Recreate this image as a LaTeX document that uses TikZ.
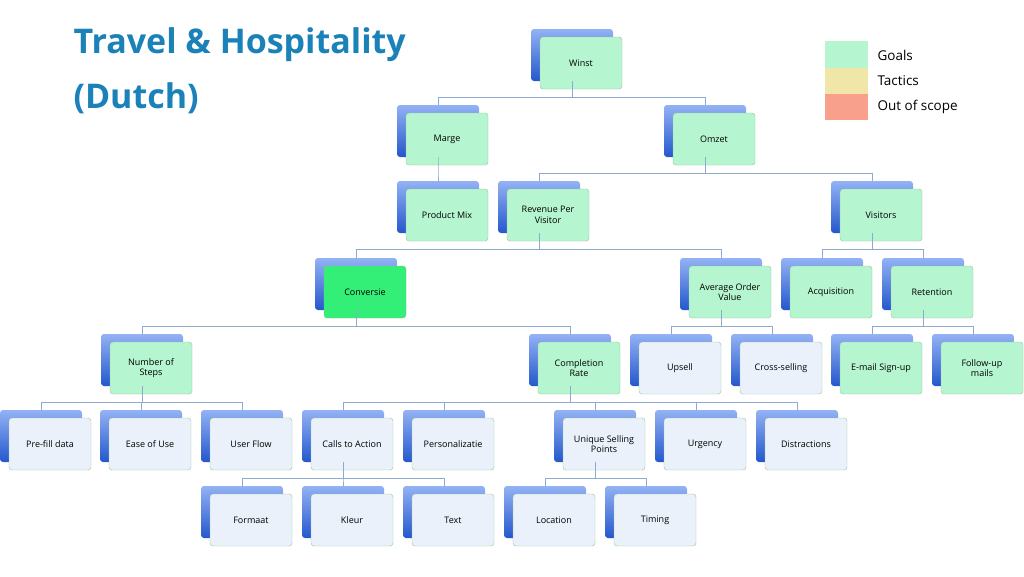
\documentclass[tikz,border=0pt]{standalone}
\usepackage{fontspec}
\setmainfont{Open Sans}
\usetikzlibrary{positioning}
\definecolor{goal}{HTML}{B5F5D0}
\definecolor{conv}{HTML}{33EE77}
\definecolor{plain}{HTML}{EAF1FB}
\definecolor{tactic}{HTML}{F0E6A8}
\definecolor{scope}{HTML}{F8A08C}
\definecolor{link}{HTML}{8EAACC}
\definecolor{titleblue}{HTML}{1A82B8}
\definecolor{backtop}{HTML}{93B2F5}
\definecolor{backbot}{HTML}{2457CC}
\begin{document}
\begin{tikzpicture}[x=1pt,y=-1pt,
		back/.style={
			rounded corners=3pt,
			top color=backtop,
			bottom color=backbot,
			minimum width=82pt,
			minimum height=52pt
		},
		front/.style={
			rounded corners=3pt,
			draw=green!40!black!40,
			minimum width=82pt,
			minimum height=52pt,
			align=center,
			font=\fontsize{9}{10.5}\selectfont
		},
		connect/.style={
			draw=link,
			line width=0.7pt
		}
		]
		\useasboundingbox (0,0) rectangle (1024,576);
		% title and legend
		\node[anchor=west,text=titleblue,font=\fontsize{34}{36}\selectfont\bfseries] (T1) at (70,45) {Travel \& Hospitality};
		\node[anchor=west,text=titleblue,font=\fontsize{34}{36}\selectfont\bfseries] (T2) at (70,98) {(Dutch)};
		\fill[goal] (825,41) rectangle (868,68);
		\fill[tactic] (825,68) rectangle (868,94);
		\fill[scope] (825,94) rectangle (868,120);
		\node[anchor=west,font=\fontsize{13.5}{15}\selectfont] (LG) at (874,55) {Goals};
		\node[anchor=west,font=\fontsize{13.5}{15}\selectfont] (LT) at (874,81) {Tactics};
		\node[anchor=west,font=\fontsize{13.5}{15}\selectfont] (LO) at (874,107) {Out of scope};
		% nodes
		\foreach \n/\x/\y/\c/\t in {
			winst/581/63/goal/Winst,
			marge/447/139/goal/Marge,
			omzet/714/139/goal/Omzet,
			mix/447/215/goal/Product Mix,
			rpv/548/215/goal/Revenue Per\\Visitor,
			visit/881/215/goal/Visitors,
			conv/365/292/conv/Conversie,
			aov/730/292/goal/Average Order\\Value,
			acq/831/292/goal/Acquisition,
			ret/932/292/goal/Retention,
			steps/151/368/goal/Number of\\Steps,
			compl/579/368/goal/Completion\\Rate,
			upsell/680/368/plain/Upsell,
			cross/781/368/plain/Cross-selling,
			email/881/368/goal/E-mail Sign-up,
			follow/982/368/goal/Follow-up\\mails,
			prefill/50/444/plain/Pre-fill data,
			ease/150/444/plain/Ease of Use,
			flow/251/444/plain/User Flow,
			cta/352/444/plain/Calls to Action,
			pers/453/444/plain/Personalizatie,
			usp/604/444/plain/Unique Selling\\Points,
			urg/705/444/plain/Urgency,
			dist/806/444/plain/Distractions,
			form/251/520/plain/Formaat,
			kleur/352/520/plain/Kleur,
			text/453/520/plain/Text,
			loc/554/520/plain/Location,
			time/655/520/plain/Timing}{
			\node[back] (\n-b) at (\x-9,\y-8) {};
			\node[front,fill=\c] (\n) at (\x,\y) {\t};
		}
		% connectors
		\foreach \p/\k in {winst/marge,winst/omzet,marge/mix,omzet/rpv,omzet/visit,
			rpv/conv,rpv/aov,visit/acq,visit/ret,conv/steps,conv/compl,aov/upsell,aov/cross,
			ret/email,ret/follow,steps/prefill,steps/ease,steps/flow,compl/cta,compl/pers,
			compl/usp,compl/urg,compl/dist,cta/form,cta/kleur,cta/text,usp/loc,usp/time}{
			\draw[connect] (\p-b.south) -- ++(0,16) -| (\k-b.north);
		}
\end{tikzpicture}
\end{document}
